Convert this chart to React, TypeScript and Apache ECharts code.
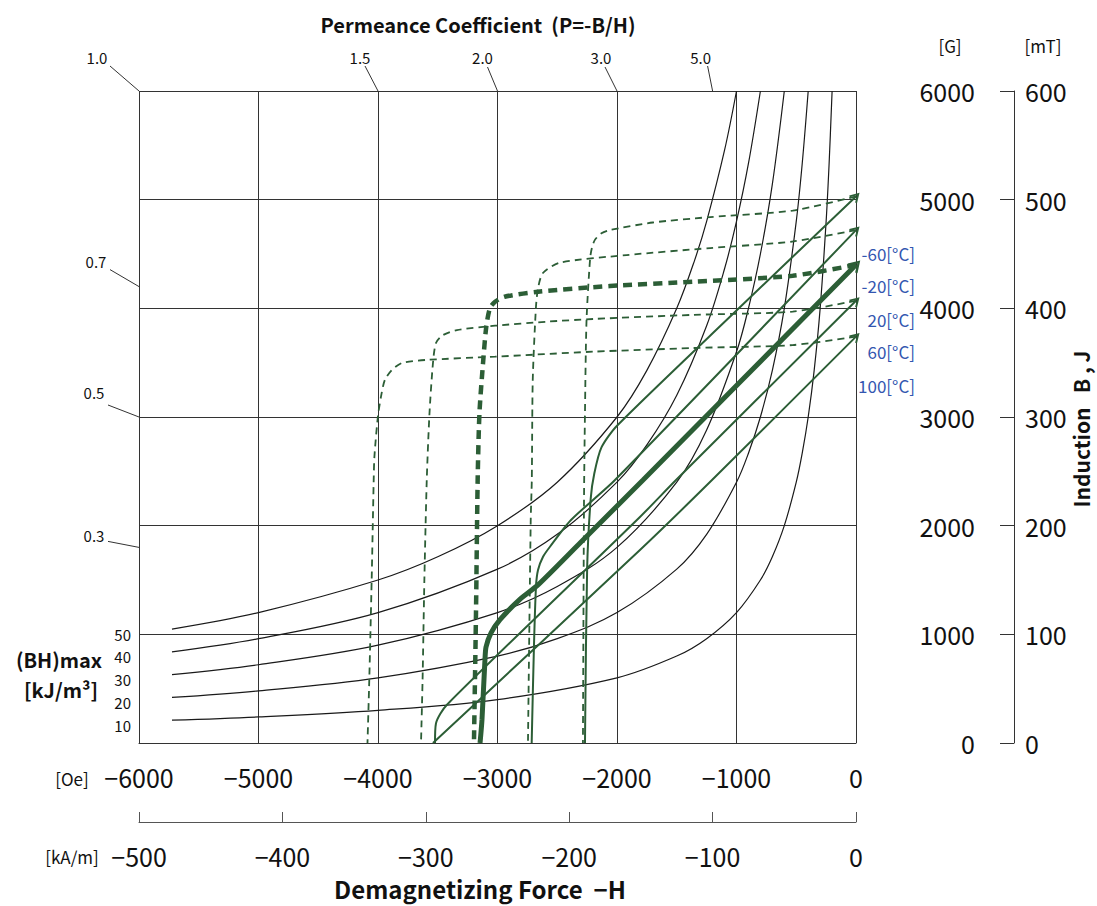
import React, { useEffect, useRef } from "react";
import * as echarts from "echarts";

const FONT = "'Noto Sans CJK JP', 'Noto Sans', sans-serif";
const GREEN = "#2c5e36";
const BLUE = "#3356b0";

// Axis ticks
const oeTicks = { min: -6000, max: 0, interval: 1000 };
const kamTicks = { min: -500, max: 0, interval: 100 };
const gaussTicks = { min: 0, max: 6000, interval: 1000 };
const mtTicks = { min: 0, max: 600, interval: 100 };

// Temperature labels
const tempLabels = ["-60[°C]", "-20[°C]", "20[°C]", "60[°C]", "100[°C]"];

// Intrinsic (J) curves  [H (Oe), J (G)]
const jM60 = [[0, 5030], [-530, 4900], [-1220, 4840], [-1700, 4790], [-2060, 4720], [-2130, 4690], [-2185, 4630], [-2210, 4555], [-2225, 4460], [-2255, 3890], [-2268, 3040], [-2276, 2240], [-2285, 0]];
const jM20 = [[0, 4720], [-530, 4615], [-1220, 4555], [-1920, 4490], [-2480, 4420], [-2620, 4325], [-2660, 4190], [-2678, 4015], [-2705, 3340], [-2713, 2420], [-2722, 2050], [-2745, 0]];
const j20 = [[0, 4400], [-530, 4300], [-1360, 4245], [-2060, 4205], [-2660, 4153], [-2940, 4107], [-3020, 4061], [-3063, 4003], [-3094, 3831], [-3121, 3497], [-3151, 3037], [-3166, 2420], [-3180, 1196], [-3197, 0]];
const j60 = [[0, 4070], [-530, 3970], [-1360, 3940], [-2200, 3902], [-2590, 3877], [-3020, 3840], [-3340, 3800], [-3456, 3754], [-3515, 3681], [-3540, 3497], [-3569, 3037], [-3592, 2420], [-3612, 1500], [-3627, 580], [-3640, 0]];
const j100 = [[0, 3740], [-530, 3662], [-1360, 3635], [-2200, 3601], [-3020, 3555], [-3600, 3525], [-3800, 3497], [-3885, 3432], [-3943, 3340], [-3975, 3187], [-4001, 3003], [-4030, 2635], [-4036, 2420], [-4053, 1500], [-4073, 580], [-4088, 0]];

// Normal (B) curves  [H (Oe), B (G)]
const bM60 = [[0, 5030], [-1000, 3980], [-2000, 2920], [-2130, 2720], [-2190, 2480], [-2220, 2250], [-2250, 1600], [-2268, 0]];
const bM20 = [[0, 4720], [-2017, 2420], [-2385, 2052], [-2561, 1806], [-2619, 1714], [-2661, 1592], [-2678, 1438], [-2695, 886], [-2714, 0]];
const b20 = [[0, 4400], [-1782, 2420], [-2301, 1850], [-2661, 1455], [-2815, 1320], [-2979, 1135], [-3054, 1013], [-3096, 883], [-3105, 764], [-3130, 212], [-3146, 0]];
const b60 = [[0, 4070], [-1506, 2420], [-1808, 2080], [-3425, 350], [-3515, 180], [-3523, 0]];
const b100 = [[0, 3740], [-1205, 2420], [-1808, 1776], [-3540, 0]];

// (BH)max contours  [H (Oe), B (G)]
const bhLabels = ["10", "20", "30", "40", "50"];
const bh10 = [[-5724, 210], [-5000, 240], [-4000, 300], [-3000, 400], [-2000, 600], [-1500, 800], [-1250, 960], [-1000, 1200], [-800, 1500], [-700, 1714], [-600, 2000], [-500, 2400], [-450, 2667], [-400, 3000], [-350, 3429], [-300, 4000], [-250, 4800], [-225, 5333], [-200, 6000]];
const bh20 = [[-5724, 419], [-5000, 480], [-4000, 600], [-3000, 800], [-2500, 960], [-2000, 1200], [-1500, 1600], [-1250, 1920], [-1000, 2400], [-900, 2667], [-800, 3000], [-700, 3429], [-600, 4000], [-500, 4800], [-450, 5333], [-400, 6000]];
const bh30 = [[-5724, 629], [-5000, 720], [-4000, 900], [-3000, 1200], [-2500, 1440], [-2000, 1800], [-1500, 2400], [-1250, 2880], [-1000, 3600], [-900, 4000], [-800, 4500], [-700, 5143], [-600, 6000]];
const bh40 = [[-5724, 839], [-5000, 960], [-4000, 1200], [-3000, 1600], [-2500, 1920], [-2000, 2400], [-1750, 2743], [-1500, 3200], [-1250, 3840], [-1100, 4364], [-1000, 4800], [-900, 5333], [-800, 6000]];
const bh50 = [[-5724, 1048], [-5000, 1200], [-4000, 1500], [-3500, 1714], [-3000, 2000], [-2500, 2400], [-2000, 3000], [-1750, 3429], [-1500, 4000], [-1350, 4444], [-1250, 4800], [-1100, 5455], [-1000, 6000]];

// Permeance coefficient marks
const permTop = [1.0, 1.5, 2.0, 3.0, 5.0];
const permTopLabels = ["1.0", "1.5", "2.0", "3.0", "5.0"];
const permLeft = [0.7, 0.5, 0.3];
const permLeftLabels = ["0.7", "0.5", "0.3"];

const ARROW = "path://M0,9 L5,0 L10,9 L8.4,9.9 L5,3.4 L1.6,9.9 Z";

function minusFmt(v: number) {
  return v === 0 ? "0" : String(v).replace("-", "\u2212");
}
function plainFmt(v: number) {
  return String(v);
}

export default function App() {
  const ref = useRef<HTMLDivElement>(null);
  useEffect(() => {
    if (!ref.current) return;
    const chart = echarts.init(ref.current, null, { renderer: "svg" });
    const jCurves = [jM60, jM20, j20, j60, j100];
    const bCurves = [bM60, bM20, b20, b60, b100];
    const bhCurves = [bh10, bh20, bh30, bh40, bh50];
    const series: any[] = [];
    bhCurves.forEach((d, i) => {
      series.push({
        type: "line", name: "BH" + bhLabels[i], data: d, smooth: 0.35, symbol: "none",
        lineStyle: { color: "#1a1a1a", width: 1.2 }, z: 2, silent: true,
      });
    });
    jCurves.forEach((d, i) => {
      series.push({
        type: "line", name: "J " + tempLabels[i], data: d, smooth: 0.25, symbol: "none",
        lineStyle: { color: GREEN, width: i === 2 ? 4.5 : 1.8, type: i === 2 ? [9, 6] : [7, 5] },
        z: 3, silent: true,
      });
    });
    bCurves.forEach((d, i) => {
      series.push({
        type: "line", name: "B " + tempLabels[i],
        data: d.map((p, j) => (j === 0 ? { value: p, symbol: ARROW, symbolSize: i === 2 ? [14, 12] : [11, 10], symbolRotate: -45 } : { value: p, symbol: "none" })),
        smooth: 0.25, symbol: "none", showSymbol: true,
        lineStyle: { color: GREEN, width: i === 2 ? 5 : 2 }, itemStyle: { color: GREEN },
        z: 4, silent: true,
      });
    });

    const axisLabelBase = { fontFamily: FONT, fontSize: 25, color: "#111" };
    chart.setOption({
      animation: false,
      backgroundColor: "#fff",
      grid: { left: 139, right: 241, top: 91, bottom: 163, containLabel: false, outerBoundsMode: "none" },
      xAxis: [
        {
          type: "value", ...oeTicks, position: "bottom",
          axisLine: { show: true, onZero: false, lineStyle: { color: "#333", width: 1 } },
          axisTick: { show: false },
          axisLabel: { ...axisLabelBase, margin: 21, formatter: minusFmt },
          splitLine: { show: true, lineStyle: { color: "#333", width: 1 } },
        },
        {
          type: "value", ...kamTicks, position: "bottom", offset: 79,
          axisLine: { show: true, onZero: false, lineStyle: { color: "#555", width: 1 } },
          axisTick: { show: true, inside: true, length: 10, lineStyle: { color: "#555", width: 1 } },
          axisLabel: { ...axisLabelBase, margin: 21, formatter: minusFmt },
          splitLine: { show: false },
        },
      ],
      yAxis: [
        {
          type: "value", ...gaussTicks, position: "right",
          axisLine: { show: false }, axisTick: { show: false },
          axisLabel: { ...axisLabelBase, margin: 119, align: "right", formatter: plainFmt },
          splitLine: { show: true, lineStyle: { color: "#333", width: 1 } },
        },
        {
          type: "value", ...mtTicks, position: "right", offset: 158,
          axisLine: { show: true, onZero: false, lineStyle: { color: "#333", width: 1 } },
          axisTick: { show: true, inside: true, length: 14, lineStyle: { color: "#333", width: 1 } },
          axisLabel: { ...axisLabelBase, margin: 11, formatter: plainFmt },
          splitLine: { show: false },
        },
      ],
      series,
    });

    const toPx = (p: number[]) => chart.convertToPixel({ xAxisIndex: 0, yAxisIndex: 0 }, p) as number[];
    const g: any[] = [];
    const txt = (x: number, y: number, text: string, size: number, opts: any = {}) => ({
      type: "text", x, y, silent: true, rotation: opts.rotation || 0,
      style: {
        text, fontFamily: FONT, fontSize: size, fontWeight: opts.bold ? "bold" : "normal",
        fill: opts.color || "#111", align: opts.align || "center", verticalAlign: "middle",
      },
    });
    const lead = (x1: number, y1: number, x2: number, y2: number) => ({
      type: "line", silent: true, shape: { x1, y1, x2, y2 }, style: { stroke: "#333", lineWidth: 1 },
    });
    // permeance at top border: B = 6000, H = -6000 / P
    const topOffsets = [[-42, -34, -29, -25], [-18, -34, -13, -25], [-15, -34, -10, -24], [-16, -34, -12, -24], [-12, -34, -5, -25]];
    permTop.forEach((P, i) => {
      const [px, py] = toPx([-6000 / P, 6000]);
      const o = topOffsets[i];
      g.push(lead(px + o[2], py + o[3], px, py));
      g.push(txt(px + o[0], py + o[1], permTopLabels[i], 15));
    });
    const leftOffsets = [[-43, -25, -29, -17], [-45, -25, -31, -12], [-45, -12, -31, -6]];
    permLeft.forEach((P, i) => {
      const [px, py] = toPx([-6000, 6000 * P]);
      const o = leftOffsets[i];
      g.push(lead(px + o[2], py + o[3], px, py));
      g.push(txt(px + o[0], py + o[1], permLeftLabels[i], 15));
    });
    // (BH)max labels next to curve starts
    bhCurves.forEach((d, i) => {
      const [, py] = toPx(d[0]);
      g.push(txt(131, py + 5, bhLabels[i], 15, { align: "right" }));
    });
    // temperature labels
    const tempY = [253, 285, 319, 351, 385];
    tempLabels.forEach((t, i) => g.push(txt(915, tempY[i], t, 17, { align: "right", color: BLUE })));

    g.push(txt(478, 24, "Permeance Coefficient  (P=-B/H)", 20, { bold: true }));
    g.push(txt(950, 45, "[G]", 17));
    g.push(txt(1043, 45, "[mT]", 17));
    g.push(txt(1081, 429, "Induction   B , J", 21, { bold: true, rotation: Math.PI / 2 }));
    g.push(txt(59, 659, "(BH)max", 20, { bold: true }));
    g.push(txt(61, 689, "[kJ/m³]", 20, { bold: true }));
    g.push(txt(72, 778, "[Oe]", 17));
    g.push(txt(72, 856, "[kA/m]", 17));
    g.push(txt(480, 888, "Demagnetizing Force  \u2212H", 24, { bold: true }));

    chart.setOption({ graphic: g });
    return () => chart.dispose();
  }, []);
  return <div ref={ref} style={{ position: "fixed", left: 0, top: 0, width: 1097, height: 906 }} />;
}
